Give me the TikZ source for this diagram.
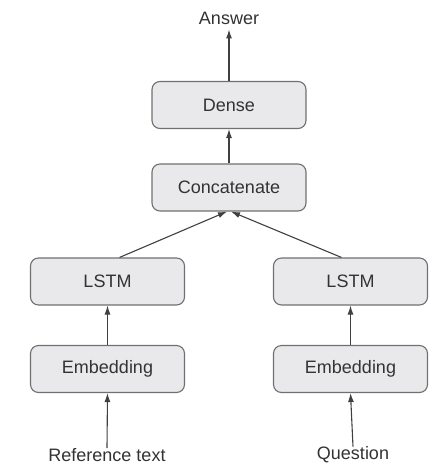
\documentclass[tikz,border=0pt]{standalone}
\usepackage{fontspec}
\setmainfont{Liberation Sans}
\usetikzlibrary{arrows.meta,calc}
\definecolor{boxfill}{HTML}{E9E9EB}
\definecolor{boxline}{HTML}{707070}
\definecolor{txt}{HTML}{333333}
\definecolor{arr}{HTML}{404040}
\tikzset{
  layer/.style={draw=boxline, line width=1.1pt, fill=boxfill, rounded corners=8pt,
    minimum width=154pt, minimum height=47pt, inner sep=0pt, text=txt,
    font=\fontsize{18}{21}\selectfont},
  label/.style={text=txt, font=\fontsize{18}{21}\selectfont, inner sep=2pt},
  flow/.style={draw=arr, line width=1.1pt, -{Latex[length=9pt,width=6pt]}}
}
\begin{document}
\begin{tikzpicture}[x=1pt,y=-1pt]
\useasboundingbox (0,0) rectangle (447,475);
\node[layer] (dense) at (229,105) {Dense};
\node[layer] (concat) at (229,187.5) {Concatenate};
\node[layer] (lstmA) at (107.5,281.5) {LSTM};
\node[layer] (lstmB) at (350.5,281.5) {LSTM};
\node[layer] (embA) at (107.5,369) {Embedding};
\node[layer] (embB) at (350.5,369) {Embedding};
\node[label] (answer) at (229,18) {Answer};
\node[label] (ref) at (107,455) {Reference text};
\node[label] (quest) at (353,455) {Question};
\draw[flow] (dense.north) -- ($(answer.south)+(0,3)$);
\draw[flow] (concat.north) -- (dense.south);
\draw[flow] ($(lstmA.north)+(12,0)$) -- ($(concat.south)+(-2,0)$);
\draw[flow] ($(lstmB.north)+(-9,0)$) -- ($(concat.south)+(2,0)$);
\draw[flow] (embA.north) -- (lstmA.south);
\draw[flow] (embB.north) -- (lstmB.south);
\draw[flow] ($(ref.north)+(0,2)$) -- (embA.south);
\draw[flow] ($(quest.north)+(0,2)$) -- (embB.south);
\end{tikzpicture}
\end{document}
